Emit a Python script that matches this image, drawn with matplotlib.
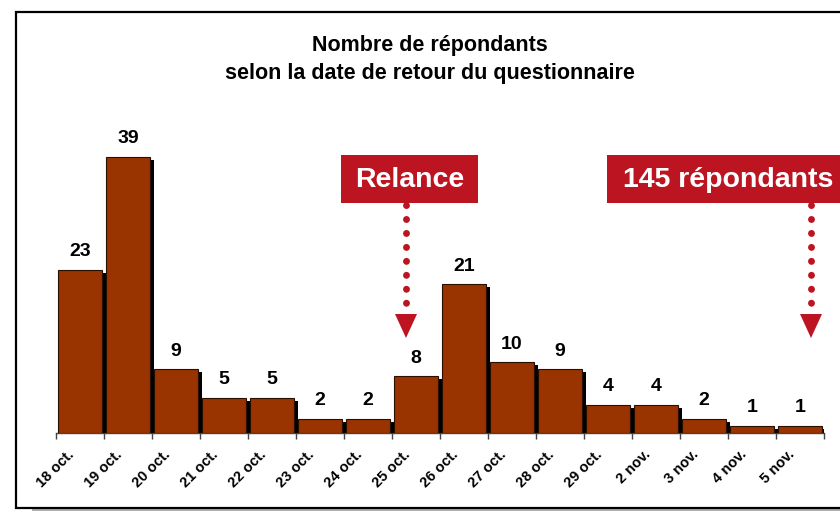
import matplotlib
matplotlib.use("Agg")
import matplotlib.pyplot as plt
from matplotlib.patches import Rectangle, Polygon
from matplotlib.transforms import offset_copy
import matplotlib.patheffects as pe

plt.rcParams['font.family'] = ['Liberation Sans', 'DejaVu Sans']

categories = ["18 oct.", "19 oct.", "20 oct.", "21 oct.", "22 oct.", "23 oct.", "24 oct.",
              "25 oct.", "26 oct.", "27 oct.", "28 oct.", "29 oct.", "2 nov.", "3 nov.",
              "4 nov.", "5 nov."]
values = [23, 39, 9, 5, 5, 2, 2, 8, 21, 10, 9, 4, 4, 2, 1, 1]
title_lines = ["Nombre de répondants", "selon la date de retour du questionnaire"]
annotations = ["Relance", "145 répondants"]

W, H = 840, 511
fig = plt.figure(figsize=(W / 100, H / 100), dpi=100)

def fx(px):
    return px / W

def fy(py):
    return 1 - py / H

# outer frame with shadow
fig.patches.append(Rectangle((fx(32), fy(511)), fx(820), fy(508) - fy(511),
                             transform=fig.transFigure, facecolor='#b0b0b0', edgecolor='none', zorder=0))
fig.patches.append(Rectangle((fx(16), fy(508)), fx(840), fy(12) - fy(508),
                             transform=fig.transFigure, facecolor='white', edgecolor='black',
                             linewidth=1.6, zorder=1))

ax = fig.add_axes([fx(56), fy(433), fx(768), fy(114) - fy(433)])
ax.set_zorder(2)
ax.patch.set_visible(False)

n = len(categories)
x = list(range(n))
bars = ax.bar(x, values, width=0.92, color='#993300', edgecolor='#2a0e00', linewidth=0.8,
              zorder=3)
for b in bars:
    b.set_path_effects([pe.SimplePatchShadow(offset=(3.1, -2.2), shadow_rgbFace='black', alpha=1.0),
                        pe.Normal()])

for xi, v in zip(x, values):
    ax.annotate(str(v), (xi, v), xytext=(0, 13), textcoords='offset points',
                ha='center', va='center', fontsize=14, fontweight='bold', color='black')

ax.set_xlim(-0.5, n - 0.5)
ax.set_ylim(0, 45)
for s in ['top', 'right', 'left']:
    ax.spines[s].set_visible(False)
ax.spines['bottom'].set_color('#444444')
ax.spines['bottom'].set_linewidth(1.0)
ax.set_yticks([])
ax.set_xticks([i - 0.5 for i in range(n + 1)])
ax.set_xticklabels([])
ax.tick_params(axis='x', which='major', length=4, width=1, color='#444444', direction='out')

lab_tr = offset_copy(ax.get_xaxis_transform(), fig=fig, x=-8, y=-19, units='dots')
for xi, cat in zip(x, categories):
    ax.text(xi, 0, cat, transform=lab_tr, rotation=45, ha='right', va='center',
            rotation_mode='anchor', fontsize=10.5, fontweight='bold', color='black')

# title
fig.text(fx(430), fy(45), title_lines[0], ha='center', va='center', fontsize=15.5, fontweight='bold')
fig.text(fx(430), fy(73), title_lines[1], ha='center', va='center', fontsize=15.5, fontweight='bold')

red = '#bd1422'

def callout(text, box_left_px, box_right_px, text_x_px, arrow_x_px):
    fig.patches.append(Rectangle((fx(box_left_px), fy(203)), fx(box_right_px - box_left_px),
                                 fy(155) - fy(203), transform=fig.transFigure,
                                 facecolor=red, edgecolor='none', zorder=4))
    fig.text(fx(text_x_px), fy(180), text, ha='center', va='center', fontsize=20.5,
             fontweight='bold', color='white', zorder=5)
    line = plt.Line2D([fx(arrow_x_px), fx(arrow_x_px)], [fy(205), fy(303)],
                      transform=fig.transFigure, color=red, linewidth=5,
                      linestyle=(0, (0.01, 2.0)), dash_capstyle='round', zorder=4)
    fig.lines.append(line)
    tri = Polygon([(fx(arrow_x_px - 11), fy(314)), (fx(arrow_x_px + 11), fy(314)),
                   (fx(arrow_x_px), fy(338))], closed=True, transform=fig.transFigure,
                  facecolor=red, edgecolor='none', zorder=4)
    fig.patches.append(tri)

callout(annotations[0], 341, 478, 410, 406)
callout(annotations[1], 607, 850, 728, 811)

fig.savefig('out.png', dpi=100)
